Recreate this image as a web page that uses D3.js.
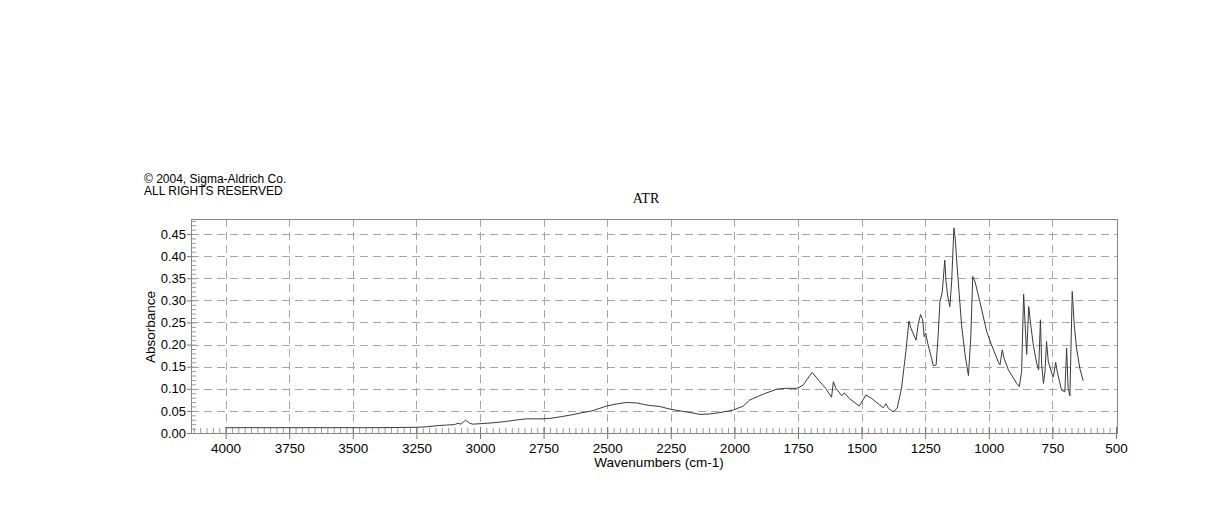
<!DOCTYPE html>
<html>
<head>
<meta charset="utf-8">
<script src="https://cdn.jsdelivr.net/npm/d3@7"></script>
<style>
  html, body { margin: 0; padding: 0; background: #fff; }
  svg { display: block; }
</style>
</head>
<body>
<svg id="chart" width="1218" height="528"></svg>
<script>
// ---- data ----
const wavenumbers = [4000,3800,3600,3400,3250,3210,3160,3131,3100,3087,3075,3057,3040,3028,3000,2950,2900,2850,2817,2760,2725,2680,2640,2607,2560,2502,2460,2424,2384,2359,2331,2293,2253,2214,2162,2135,2100,2070,2030,2004,1965,1939,1886,1834,1800,1755,1730,1716,1694,1664,1640,1618,1611,1600,1592,1578,1568,1546,1509,1483,1460,1428,1415,1404,1395,1376,1360,1343,1326,1314,1306,1286,1277,1268,1260,1254,1248,1240,1225,1218,1207,1199,1192,1183,1173,1168,1162,1153,1146,1137,1132,1124,1107,1093,1080,1071,1063,1054,1035,1008,989,963,956,947,940,923,890,880,871,863,857,851,843,835,825,812,804,797,792,785,779,773,766,752,746,737,731,714,701,694,688,681,672,664,655,642,635,629];
const absorbance = [0.012,0.012,0.012,0.012,0.013,0.014,0.017,0.018,0.019,0.022,0.020,0.029,0.022,0.020,0.021,0.023,0.026,0.030,0.032,0.032,0.033,0.037,0.041,0.045,0.050,0.061,0.066,0.069,0.068,0.065,0.062,0.060,0.054,0.050,0.045,0.042,0.043,0.045,0.049,0.052,0.061,0.075,0.088,0.099,0.101,0.101,0.108,0.120,0.137,0.116,0.100,0.081,0.116,0.100,0.095,0.084,0.091,0.077,0.061,0.086,0.078,0.063,0.057,0.066,0.056,0.048,0.056,0.101,0.184,0.253,0.237,0.210,0.248,0.268,0.256,0.218,0.226,0.203,0.169,0.152,0.154,0.222,0.297,0.318,0.391,0.342,0.312,0.286,0.342,0.464,0.440,0.373,0.244,0.176,0.130,0.214,0.354,0.342,0.297,0.229,0.199,0.161,0.154,0.188,0.169,0.143,0.112,0.105,0.139,0.314,0.244,0.178,0.286,0.244,0.199,0.158,0.143,0.256,0.154,0.112,0.139,0.207,0.161,0.135,0.127,0.160,0.139,0.097,0.093,0.192,0.101,0.084,0.320,0.244,0.192,0.146,0.131,0.118];
const xTicks = [4000,3750,3500,3250,3000,2750,2500,2250,2000,1750,1500,1250,1000,750,500];
const yTicks = [0.00,0.05,0.10,0.15,0.20,0.25,0.30,0.35,0.40,0.45];
const xMinorTicks = d3.range(4125, 499, -25);
const yMinorTicks = d3.range(0, 0.485, 0.01);
const title = "ATR";
const copyrightLines = ["\u00A9 2004, Sigma-Aldrich Co.", "ALL RIGHTS RESERVED"];
const xLabel = "Wavenumbers (cm-1)";
const yLabel = "Absorbance";

// ---- layout ----
const SANS = "'Liberation Sans', Arial, Helvetica, sans-serif";
const SERIF = "'Liberation Serif', 'Times New Roman', Times, serif";
const L = 191, R = 1117, T = 219, B = 433;
const svg = d3.select("#chart");
const x = d3.scaleLinear().domain([4136, 496]).range([L, R]);
const y = d3.scaleLinear().domain([0, 0.484]).range([B, T]);

// grid
const grid = svg.append("g").attr("stroke", "#a8a8a8").attr("stroke-width", 1).attr("stroke-dasharray", "8,5");
grid.selectAll("line.v").data(xTicks.filter(d => d > 500)).join("line")
  .attr("x1", d => Math.round(x(d)) + 0.5).attr("x2", d => Math.round(x(d)) + 0.5)
  .attr("y1", T).attr("y2", B);
grid.selectAll("line.h").data(yTicks.filter(d => d > 0)).join("line")
  .attr("y1", d => Math.round(y(d)) + 0.5).attr("y2", d => Math.round(y(d)) + 0.5)
  .attr("x1", L).attr("x2", R);

// minor ticks (inside)
const xMinor = d3.axisTop(x).tickValues(xMinorTicks).tickSize(5).tickFormat("");
svg.append("g").attr("transform", `translate(0,${B})`).call(xMinor)
  .call(g => g.select(".domain").remove())
  .call(g => g.selectAll("line").attr("stroke", "#9a9a9a"));
const yMinor = d3.axisRight(y).tickValues(yMinorTicks).tickSize(5).tickFormat("");
svg.append("g").attr("transform", `translate(${L},0)`).call(yMinor)
  .call(g => g.select(".domain").remove())
  .call(g => g.selectAll("line").attr("stroke", "#9a9a9a"));

// major axes
const xAxis = d3.axisBottom(x).tickValues(xTicks).tickSizeInner(6).tickSizeOuter(0).tickPadding(4)
  .tickFormat(d3.format("d"));
const gx = svg.append("g").attr("transform", `translate(0,${B})`).call(xAxis);
gx.select(".domain").remove();
gx.selectAll(".tick line").attr("stroke", "#777").attr("y1", -6);
gx.selectAll(".tick text").attr("fill", "#000").style("font-size", "13.5px").style("font-family", SANS);

const yAxis = d3.axisLeft(y).tickValues(yTicks).tickSizeInner(4).tickSizeOuter(0).tickPadding(1)
  .tickFormat(d3.format(".2f"));
const gy = svg.append("g").attr("transform", `translate(${L},0)`).call(yAxis);
gy.select(".domain").remove();
gy.selectAll(".tick line").attr("stroke", "#777");
gy.selectAll(".tick text").attr("fill", "#000").style("font-size", "13px").style("font-family", SANS);

// frame
svg.append("rect").attr("x", L + 0.5).attr("y", T + 0.5).attr("width", R - L).attr("height", B - T)
  .attr("fill", "none").attr("stroke", "#888").attr("stroke-width", 1);

// spectrum
const line = d3.line().x((d, i) => x(wavenumbers[i])).y(d => y(d));
svg.append("path").datum(absorbance).attr("d", line)
  .attr("fill", "none").attr("stroke", "#3a3a3a").attr("stroke-width", 1).attr("stroke-linejoin", "round");

// texts
svg.append("text").attr("x", 144).attr("y", 183).style("font-family", SANS).style("font-size", "12px").text(copyrightLines[0]);
svg.append("text").attr("x", 144).attr("y", 195).style("font-family", SANS).style("font-size", "12px").text(copyrightLines[1]);
svg.append("text").attr("x", 646).attr("y", 203).attr("text-anchor", "middle")
  .style("font-family", SERIF).style("font-size", "14px").text(title);
svg.append("text").attr("x", 659).attr("y", 467).attr("text-anchor", "middle")
  .style("font-family", SANS).style("font-size", "13.5px").text(xLabel);
svg.append("text").attr("transform", "translate(155,327) rotate(-90)").attr("text-anchor", "middle")
  .style("font-family", SANS).style("font-size", "13.5px").text(yLabel);
</script>
</body>
</html>
